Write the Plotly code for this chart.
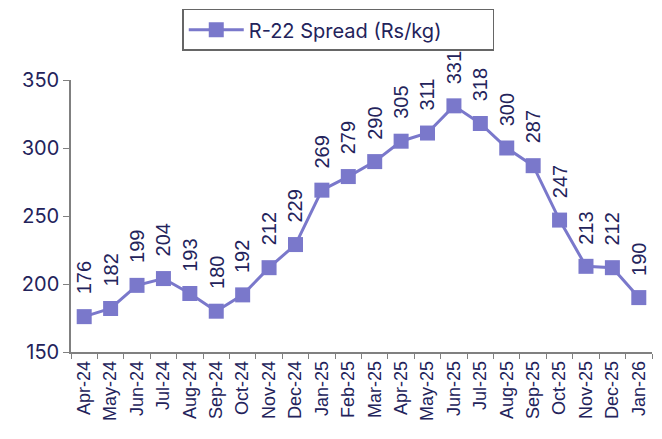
import plotly.graph_objects as go

months = ["Apr-24","May-24","Jun-24","Jul-24","Aug-24","Sep-24","Oct-24","Nov-24","Dec-24",
          "Jan-25","Feb-25","Mar-25","Apr-25","May-25","Jun-25","Jul-25","Aug-25","Sep-25",
          "Oct-25","Nov-25","Dec-25","Jan-26"]
spread = [176,182,199,204,193,180,192,212,229,269,279,290,305,311,331,318,300,287,247,213,212,190]

line_color = "#7A78CB"
text_color = "#23235B"

fig = go.Figure()
fig.add_trace(go.Scatter(
    x=months, y=spread, mode="lines+markers", name="R-22 Spread (Rs/kg)",
    line=dict(color=line_color, width=3),
    marker=dict(symbol="square", size=15, color=line_color),
    cliponaxis=False,
))

for m, v in zip(months, spread):
    fig.add_annotation(x=m, y=v, text=str(v), showarrow=False, textangle=-90,
                       xanchor="center", yanchor="bottom", yshift=20,
                       font=dict(family="Liberation Sans, Arial", size=20, color=text_color))

fig.update_layout(
    width=662, height=439,
    margin=dict(l=63, r=18, t=72, b=95, autoexpand=False),
    plot_bgcolor="white", paper_bgcolor="white",
    showlegend=True,
    legend=dict(x=0.46, y=1.262, xanchor="center", yanchor="top", orientation="h",
                bordercolor="#666666", borderwidth=1.5,
                itemwidth=55,
                entrywidth=239, entrywidthmode="pixels",
                font=dict(family="Inter", size=20, color=text_color),
                bgcolor="white"),
    xaxis=dict(type="category", range=[-0.5, 21.5], showgrid=False, showline=True,
               linecolor="#808080", linewidth=1.5,
               ticks="outside", tickson="boundaries", ticklen=5, tickcolor="#808080",
               tickangle=-90, automargin=False,
               tickfont=dict(family="Liberation Sans, Arial", size=18, color=text_color)),
    yaxis=dict(range=[150, 350], dtick=50, showgrid=False, showline=True, linecolor="#808080",
               linewidth=1.5, ticks="outside", ticklen=6, tickcolor="#808080",
               zeroline=False, automargin=False,
               tickfont=dict(family="Inter", size=20, color=text_color)),
)

fig.write_html("out.html")
